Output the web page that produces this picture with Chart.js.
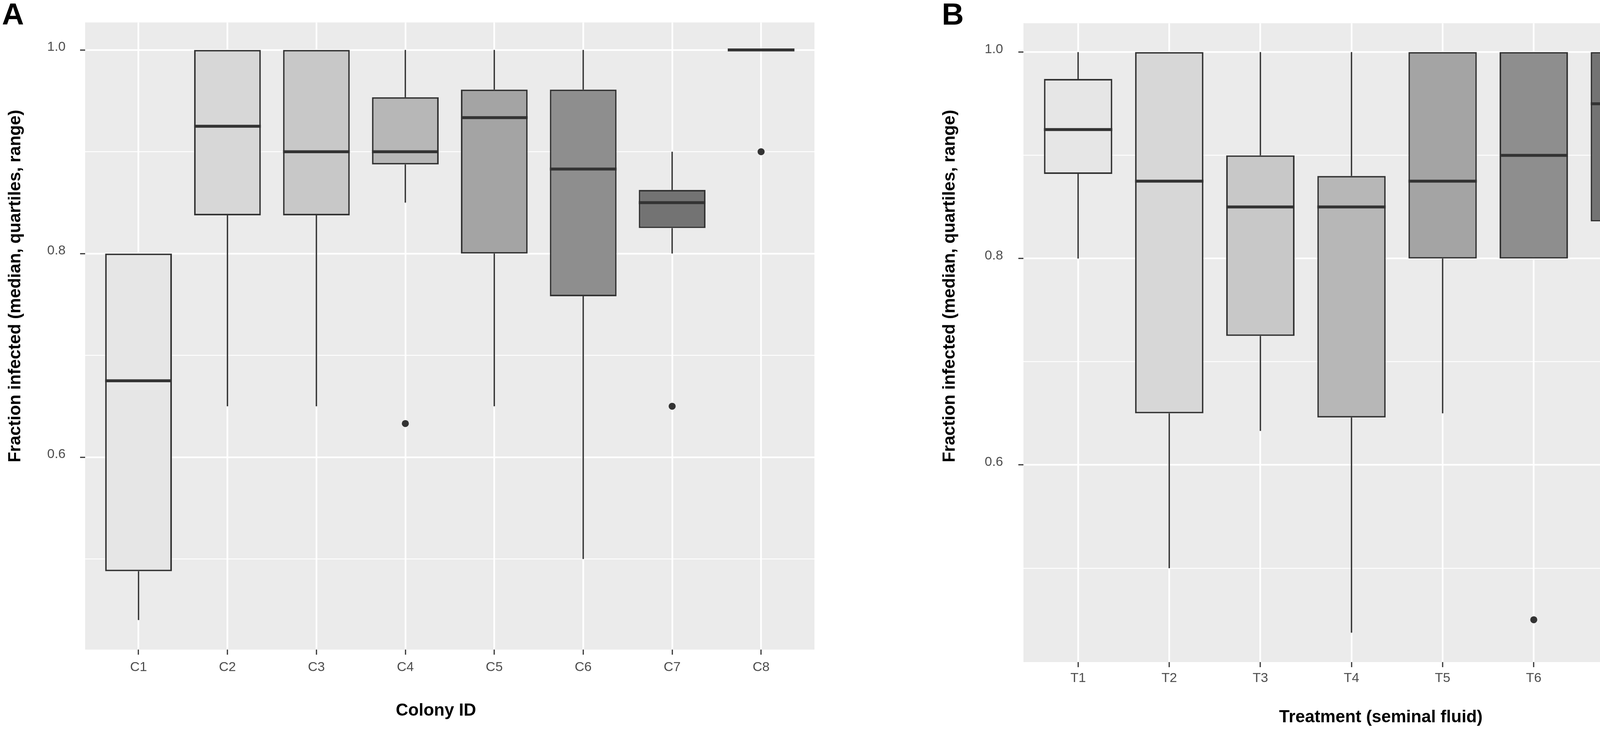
<!DOCTYPE html>
<html lang="en">
<head>
  <meta charset="UTF-8">
  <title>Fraction infected</title>
  <script src="https://cdn.jsdelivr.net/npm/chart.js"></script>
  <style>
    html, body {
      margin: 0;
      padding: 0;
      background: #ffffff;
    }
    body {
      position: relative;
      width: 4550px;
      height: 1878px;
      overflow: hidden;
    }
    canvas {
      position: absolute;
      top: 0;
    }
    #chartA { left: 0; }
    #chartB { left: 2250px; }
  </style>
</head>
<body>
<canvas id="chartA" width="2250" height="1878"></canvas>
<canvas id="chartB" width="2300" height="1878"></canvas>

<script>
  // panel A - colonies
  const colonyIds = ['C1', 'C2', 'C3', 'C4', 'C5', 'C6', 'C7', 'C8'];
  const colonyMin = [0.44, 0.65, 0.65, 0.85, 0.65, 0.50, 0.80, 1.00];
  const colonyQ1 = [0.488, 0.8375, 0.8375, 0.8875, 0.80, 0.758, 0.825, 1.00];
  const colonyMedian = [0.675, 0.925, 0.90, 0.90, 0.9335, 0.883, 0.85, 1.00];
  const colonyQ3 = [0.80, 1.00, 1.00, 0.9535, 0.961, 0.961, 0.8625, 1.00];
  const colonyMax = [0.80, 1.00, 1.00, 1.00, 1.00, 1.00, 0.90, 1.00];
  const colonyOutlierIds = ['C4', 'C7', 'C8'];
  const colonyOutliers = [0.633, 0.65, 0.90];

  // panel B - treatments
  const treatmentIds = ['T1', 'T2', 'T3', 'T4', 'T5', 'T6', 'T7', 'T8'];
  const treatmentMin = [0.80, 0.50, 0.633, 0.4375, 0.65, 0.80, 0.80, 0.80];
  const treatmentQ1 = [0.882, 0.65, 0.725, 0.646, 0.80, 0.80, 0.836, 0.875];
  const treatmentMedian = [0.925, 0.875, 0.85, 0.85, 0.875, 0.90, 0.95, 0.925];
  const treatmentQ3 = [0.974, 1.00, 0.90, 0.88, 1.00, 1.00, 1.00, 0.962];
  const treatmentMax = [1.00, 1.00, 1.00, 1.00, 1.00, 1.00, 1.00, 1.00];
  const treatmentOutlierIds = ['T6', 'T7', 'T8'];
  const treatmentOutliers = [0.45, 0.50, 0.60];

  // y axis: grid at every 0.1, labels on the even ones
  const yGridValues = [0.5, 0.6, 0.7, 0.8, 0.9, 1.0];
  const yLabelValues = [0.6, 0.8, 1.0];

  const boxFills = ['#e6e6e6', '#d7d7d7', '#c8c8c8', '#b7b7b7', '#a4a4a4', '#8e8e8e', '#737373', '#4d4d4d'];
  const ink = '#333333';
  const fontFamily = "'Liberation Sans', Arial, sans-serif";

  function line(ctx, x1, y1, x2, y2) {
    ctx.beginPath();
    ctx.moveTo(x1, y1);
    ctx.lineTo(x2, y2);
    ctx.stroke();
  }

  // grey panel, whiskers and medians
  function boxPartsPlugin(stats) {
    return {
      id: 'boxParts',
      beforeDraw(chart) {
        const {ctx, chartArea: a} = chart;
        ctx.save();
        ctx.fillStyle = '#ebebeb';
        ctx.fillRect(a.left, a.top, a.right - a.left, a.bottom - a.top);
        ctx.restore();
      },
      afterDatasetsDraw(chart) {
        const {ctx} = chart;
        const y = chart.scales.y;
        const bars = chart.getDatasetMeta(0).data;
        ctx.save();
        ctx.strokeStyle = ink;
        ctx.lineCap = 'butt';
        bars.forEach((bar, i) => {
          const half = bar.width / 2;
          ctx.lineWidth = 3.5;
          if (stats.max[i] > stats.q3[i]) {
            line(ctx, bar.x, y.getPixelForValue(stats.q3[i]), bar.x, y.getPixelForValue(stats.max[i]));
          }
          if (stats.min[i] < stats.q1[i]) {
            line(ctx, bar.x, y.getPixelForValue(stats.q1[i]), bar.x, y.getPixelForValue(stats.min[i]));
          }
          ctx.lineWidth = 7.5;
          const my = y.getPixelForValue(stats.median[i]);
          line(ctx, bar.x - half, my, bar.x + half, my);
        });
        ctx.restore();
      }
    };
  }

  // panel letter and axis titles
  function panelTextPlugin(t) {
    return {
      id: 'panelText',
      afterDraw(chart) {
        const {ctx} = chart;
        ctx.save();
        ctx.fillStyle = '#000000';
        ctx.font = 'bold 78px ' + fontFamily;
        ctx.textAlign = 'left';
        ctx.textBaseline = 'alphabetic';
        ctx.fillText(t.letter, t.letterX, 63);

        ctx.font = 'bold 44px ' + fontFamily;
        ctx.textAlign = 'center';
        ctx.textBaseline = 'middle';
        ctx.fillText(t.xTitle, t.xTitleX, t.xTitleY);

        ctx.translate(t.yTitleX, 732);
        ctx.rotate(-Math.PI / 2);
        ctx.fillText(t.yTitle, 0, 0);
        ctx.restore();
      }
    };
  }

  function boxChart(canvasId, p) {
    const boxes = p.ids.map((id, i) => ({x: i + 1, y: [p.q1[i], p.q3[i]]}));
    const outliers = p.outlierIds.map((id, k) => ({x: p.ids.indexOf(id) + 1, y: p.outliers[k]}));

    return new Chart(document.getElementById(canvasId), {
      type: 'bar',
      data: {
        datasets: [{
          data: boxes,
          backgroundColor: boxFills,
          borderColor: ink,
          borderWidth: 4,
          borderSkipped: false,
          barPercentage: 0.75,
          categoryPercentage: 1.0
        }, {
          type: 'scatter',
          data: outliers,
          pointRadius: 9,
          pointBackgroundColor: ink,
          pointBorderWidth: 0
        }]
      },
      options: {
        responsive: false,
        animation: false,
        devicePixelRatio: 1,
        layout: {padding: p.padding},
        plugins: {
          legend: {display: false},
          tooltip: {enabled: false}
        },
        scales: {
          x: {
            type: 'linear',
            bounds: 'data',
            offset: false,
            min: 0.4,
            max: 8.6,
            afterBuildTicks: (scale) => {
              scale.ticks = p.ids.map((id, i) => ({value: i + 1}));
            },
            afterFit: (scale) => { scale.height = p.xHeight; },
            border: {display: false},
            grid: {
              offset: false,
              color: '#ffffff',
              lineWidth: 4.3,
              tickColor: ink,
              tickLength: 13,
              tickWidth: 3
            },
            ticks: {
              autoSkip: false,
              maxRotation: 0,
              padding: p.xTickPad,
              color: '#4d4d4d',
              font: {family: fontFamily, size: 34},
              callback: (v) => p.ids[v - 1]
            }
          },
          y: {
            type: 'linear',
            bounds: 'data',
            min: p.yMin,
            max: p.yMax,
            afterBuildTicks: (scale) => {
              scale.ticks = yGridValues.map(v => ({value: v}));
            },
            afterFit: (scale) => { scale.width = p.yWidth; },
            border: {display: false},
            grid: {
              color: '#ffffff',
              lineWidth: (c) => (c.tick && yLabelValues.includes(c.tick.value)) ? 4.3 : 2.2,
              tickColor: (c) => (c.tick && yLabelValues.includes(c.tick.value)) ? ink : 'rgba(0,0,0,0)',
              tickLength: 13,
              tickWidth: 3
            },
            ticks: {
              padding: p.yTickPad,
              labelOffset: -7,
              color: '#4d4d4d',
              font: {family: fontFamily, size: 34},
              callback: (v) => yLabelValues.includes(v) ? v.toFixed(1) : ''
            }
          }
        }
      },
      plugins: [boxPartsPlugin(p), panelTextPlugin(p.text)]
    });
  }

  boxChart('chartA', {
    ids: colonyIds, min: colonyMin, q1: colonyQ1, median: colonyMedian, q3: colonyQ3, max: colonyMax,
    outlierIds: colonyOutlierIds, outliers: colonyOutliers,
    yMin: 0.411, yMax: 1.027,
    padding: {left: 0, top: 21, right: 165, bottom: 0},
    yWidth: 218, xHeight: 216, xTickPad: 12, yTickPad: 37,
    text: {
      letter: 'A', letterX: 5,
      xTitle: 'Colony ID', xTitleX: 1116, xTitleY: 1819,
      yTitle: 'Fraction infected (median, quartiles, range)', yTitleX: 40
    }
  });

  boxChart('chartB', {
    ids: treatmentIds, min: treatmentMin, q1: treatmentQ1, median: treatmentMedian, q3: treatmentQ3, max: treatmentMax,
    outlierIds: treatmentOutlierIds, outliers: treatmentOutliers,
    yMin: 0.409, yMax: 1.028,
    padding: {left: 0, top: 13, right: 17, bottom: 0},
    yWidth: 370, xHeight: 184, xTickPad: 8, yTickPad: 39,
    text: {
      letter: 'B', letterX: 161,
      xTitle: 'Treatment (seminal fluid)', xTitleX: 1285, xTitleY: 1836,
      yTitle: 'Fraction infected (median, quartiles, range)', yTitleX: 182
    }
  });
</script>
</body>
</html>
